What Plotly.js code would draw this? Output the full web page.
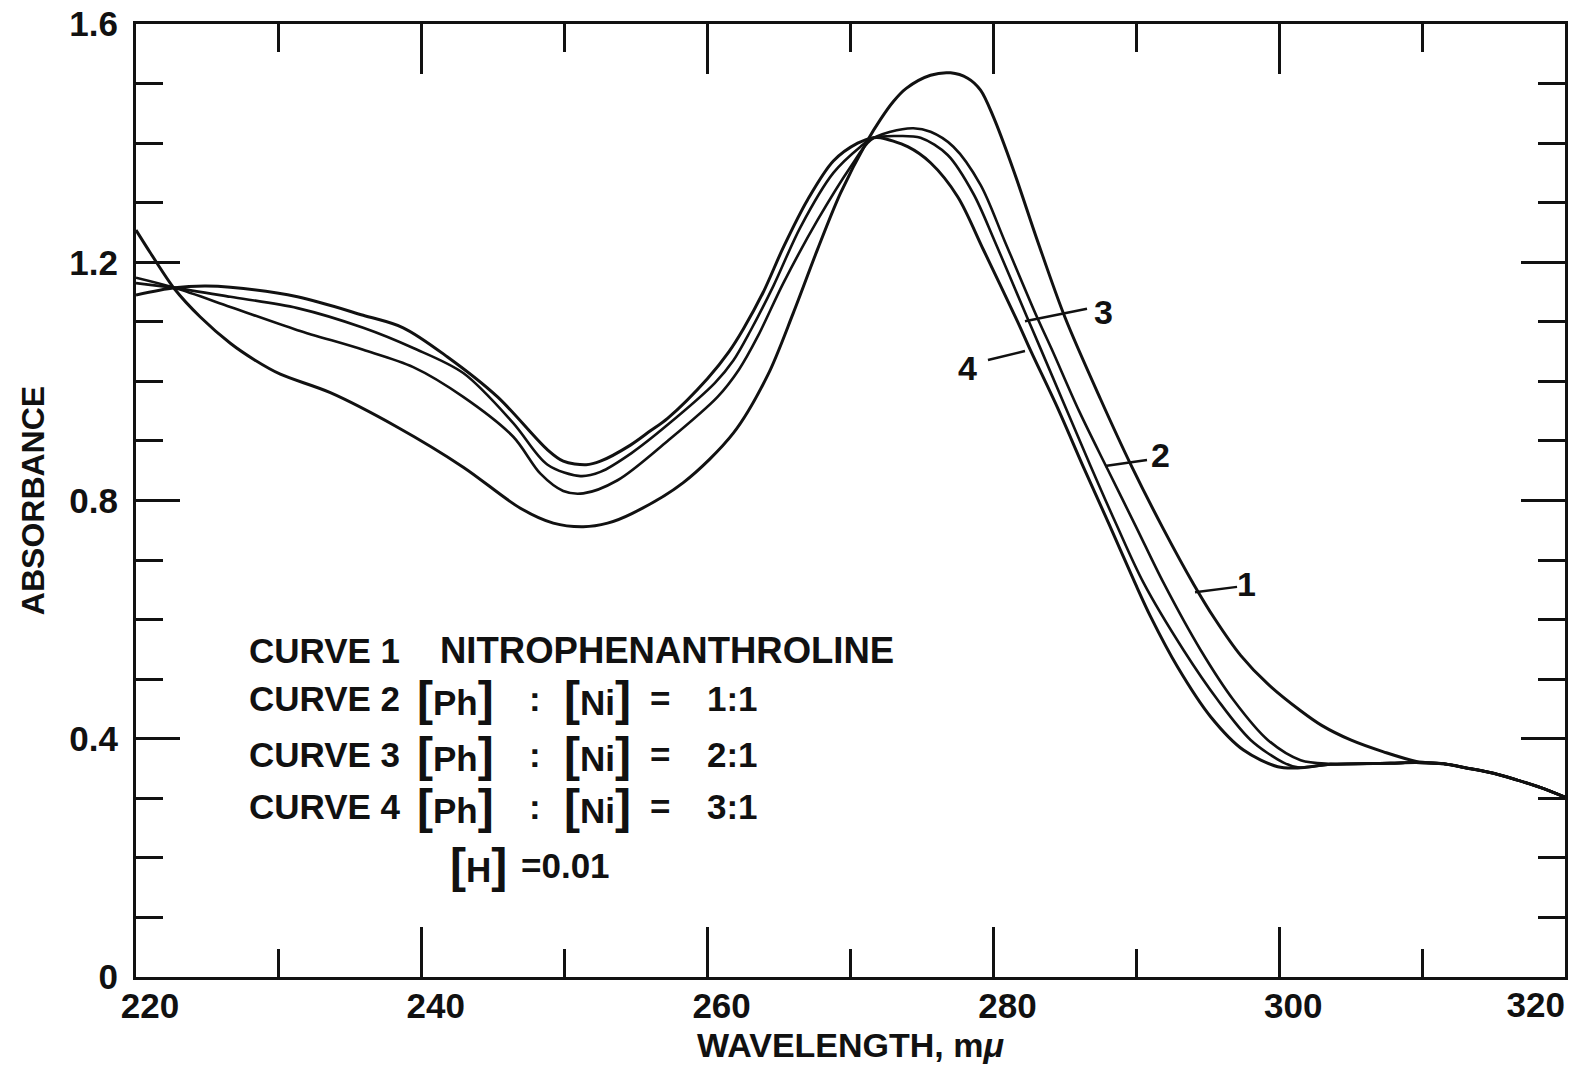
<!DOCTYPE html>
<html>
<head>
<meta charset="utf-8">
<script src="https://cdn.plot.ly/plotly-3.0.1.min.js"></script>
<style>html,body{margin:0;padding:0;background:#fff;}#chart{width:1580px;height:1071px;}</style>
</head>
<body>
<div id="chart"></div>
<script>
// ---- data (absorbance vs wavelength, mμ) ----
const curve1X = [220, 221, 222.7, 224.5, 226.6, 228.3, 230.1, 233.6, 238.3, 242.9, 246.9, 249.2, 251.3, 253, 254.7, 258.3, 261.8, 264.2, 266.0, 267.7, 269.3, 271.2, 272.1, 273.0, 273.9, 275.6, 277.0, 278.2, 279.1, 280.0, 281.4, 283.1, 285.0, 287.5, 289.7, 291.9, 294.0, 295.5, 297.3, 299.2, 301.5, 303.0, 305.0, 307.3, 309.6, 311.5, 313.1, 315, 316.6, 318.3, 320];
const curve1Y = [1.254, 1.216, 1.155, 1.108, 1.064, 1.036, 1.012, 0.981, 0.923, 0.856, 0.787, 0.762, 0.756, 0.762, 0.778, 0.830, 0.913, 1.010, 1.115, 1.222, 1.316, 1.405, 1.440, 1.470, 1.492, 1.514, 1.518, 1.509, 1.489, 1.444, 1.355, 1.235, 1.108, 0.970, 0.856, 0.752, 0.660, 0.601, 0.540, 0.492, 0.447, 0.422, 0.398, 0.378, 0.362, 0.358, 0.351, 0.342, 0.331, 0.318, 0.302];

const curve2X = [220, 222.7, 226.6, 231.3, 235.9, 239.4, 242.9, 246.4, 248.3, 249.9, 251.3, 253.7, 257.2, 260.7, 262.2, 263.5, 265.3, 267.7, 270.0, 271.4, 272.8, 274.4, 275.6, 277.2, 279.1, 280.8, 283.05, 284.1, 286.0, 288.0, 290.0, 291.9, 294.5, 296.8, 299.2, 301.5, 303.6, 307.8, 309.6, 311.5, 313.1, 315, 316.6, 318.3, 320];
const curve2Y = [1.174, 1.157, 1.125, 1.086, 1.053, 1.024, 0.974, 0.907, 0.845, 0.816, 0.812, 0.834, 0.900, 0.974, 1.020, 1.075, 1.165, 1.271, 1.360, 1.405, 1.419, 1.425, 1.419, 1.394, 1.330, 1.235, 1.108, 1.053, 0.950, 0.852, 0.755, 0.662, 0.549, 0.465, 0.398, 0.364, 0.358, 0.359, 0.360, 0.358, 0.351, 0.342, 0.331, 0.318, 0.302];

const curve3X = [220, 222.7, 226.6, 231.3, 235.9, 239.4, 242.9, 246.4, 248.8, 251.1, 252.5, 254.7, 257.2, 260.5, 261.8, 263.0, 264.6, 266.5, 268.8, 270.7, 271.6, 273.3, 274.9, 276.8, 278.6, 280.1, 282.35, 283.3, 286.8, 288.6, 290.5, 293.3, 295.7, 298.0, 300.3, 301.3, 303.6, 307.8, 309.6, 311.5, 313.1, 315, 316.6, 318.3, 320];
const curve3Y = [1.165, 1.157, 1.142, 1.123, 1.090, 1.056, 1.014, 0.930, 0.860, 0.841, 0.848, 0.880, 0.927, 0.997, 1.035, 1.085, 1.160, 1.259, 1.350, 1.394, 1.409, 1.412, 1.409, 1.380, 1.315, 1.235, 1.108, 1.055, 0.858, 0.760, 0.662, 0.549, 0.465, 0.398, 0.360, 0.352, 0.357, 0.359, 0.360, 0.358, 0.351, 0.342, 0.331, 0.318, 0.302];

const curve4X = [220, 222.7, 224.8, 226.6, 231.3, 235.9, 238.7, 241.8, 245.3, 248.8, 249.9, 251.5, 252.5, 254.6, 256.0, 257.2, 260.0, 261.5, 262.5, 263.9, 265.3, 267.0, 268.8, 270.5, 271.6, 272.1, 274.0, 275.6, 277.5, 279.3, 281.7, 282.6, 284.5, 286.3, 288.1, 289.9, 291.0, 292.9, 295.2, 297.5, 299.9, 301.3, 303.6, 307.8, 309.6, 311.5, 313.1, 315, 316.6, 318.3, 320];
const curve4Y = [1.145, 1.157, 1.160, 1.158, 1.142, 1.111, 1.090, 1.041, 0.974, 0.885, 0.866, 0.860, 0.866, 0.893, 0.917, 0.938, 1.005, 1.050, 1.088, 1.150, 1.225, 1.305, 1.370, 1.400, 1.409, 1.409, 1.394, 1.367, 1.310, 1.221, 1.100, 1.052, 0.955, 0.856, 0.760, 0.662, 0.605, 0.520, 0.437, 0.381, 0.353, 0.351, 0.357, 0.359, 0.360, 0.358, 0.351, 0.342, 0.331, 0.318, 0.302];

const curveNames = ["Curve 1", "Curve 2", "Curve 3", "Curve 4"];
const xTickVals = [220, 240, 260, 280, 300, 320];
const xTickText = ["220", "240", "260", "280", "300", ""];
const xEdgeTickVals = [320];
const xEdgeTickText = ["320"];
const yTickVals = [0, 0.4, 0.8, 1.2, 1.6];
const yTickText = ["0", "0.4", "0.8", "1.2", "1.6"];

const FONT = "'Liberation Sans', Arial, sans-serif";
const INK = "#111";
const W = "bold";

function curve(x, y, name, w) {
  return {x: x, y: y, name: name, type: "scatter", mode: "lines",
    line: {color: INK, width: w, shape: "spline", smoothing: 0.9}, hoverinfo: "x+y+name"};
}
const traces = [
  curve(curve1X, curve1Y, curveNames[0], 3),
  curve(curve2X, curve2Y, curveNames[1], 2.6),
  curve(curve3X, curve3Y, curveNames[2], 2.6),
  curve(curve4X, curve4Y, curveNames[3], 3),
  {x: [], y: [], xaxis: "x2", yaxis: "y", type: "scatter", mode: "lines", showlegend: false, hoverinfo: "skip"}
];

// legend text block
const big = s => '<span style="font-size:48px">' + s + '</span>';
const br = s => big('[') + s + big(']');
const rows = [
  {y: 0.549, c: "CURVE 1", rest: "NITROPHENANTHROLINE"},
  {y: 0.468, c: "CURVE 2", ratio: "1:1"},
  {y: 0.374, c: "CURVE 3", ratio: "2:1"},
  {y: 0.287, c: "CURVE 4", ratio: "3:1"}
];
const ann = [];
function txt(x, y, t, xa, size) {
  ann.push({x: x, y: y, xref: "x", yref: "y", text: t, showarrow: false, xanchor: xa || "left", yanchor: "middle",
    font: {family: FONT, size: size || 35, color: INK, weight: W}});
}
rows.forEach(r => {
  txt(227.8, r.y, r.c);
  if (r.rest) { txt(241.1, r.y, r.rest, "left", 36.5); }
  else {
    txt(239.5, r.y, br("Ph"));
    txt(247.9, r.y, ":", "center");
    txt(249.8, r.y, br("Ni"));
    txt(256.7, r.y, "=", "center");
    txt(259.8, r.y, r.ratio);
  }
});
txt(241.8, 0.188, br("H"));
txt(246.8, 0.188, "=0.01");

// curve number labels with leader lines
const labels = [
  {t: "1", x: 297.7, y: 0.660, lx: [294.11, 297.05], ly: [0.646, 0.655]},
  {t: "2", x: 291.7, y: 0.876, lx: [287.81, 290.75], ly: [0.858, 0.868]},
  {t: "3", x: 287.7, y: 1.117, lx: [282.21, 286.55], ly: [1.101, 1.122]},
  {t: "4", x: 278.2, y: 1.023, lx: [279.62, 282.21], ly: [1.036, 1.051]}
];
const shapes = [];
labels.forEach(l => {
  ann.push({x: l.x, y: l.y, xref: "x", yref: "y", text: l.t, showarrow: false, xanchor: "center", yanchor: "middle", font: {family: FONT, size: 34, color: INK, weight: W}});
  shapes.push({type: "line", xref: "x", yref: "y", x0: l.lx[0], y0: l.ly[0], x1: l.lx[1], y1: l.ly[1], line: {color: INK, width: 2.5}});
});

const tickFont = {family: FONT, size: 35, color: INK, weight: W};
const layout = {
  width: 1580, height: 1071,
  margin: {l: 136, r: 15, t: 24, b: 94},
  paper_bgcolor: "#fff", plot_bgcolor: "#fff",
  showlegend: false,
  font: {family: FONT, color: INK},
  xaxis: {
    range: [220, 320], tickvals: xTickVals, ticktext: xTickText, ticks: "inside", ticklen: 50, tickwidth: 3, tickcolor: INK,
    minor: {dtick: 10, tick0: 220, ticks: "inside", ticklen: 28, tickwidth: 3, tickcolor: INK, showgrid: false},
    showline: true, linewidth: 3, linecolor: INK, mirror: "ticks", showgrid: false, zeroline: false,
    tickfont: tickFont, ticklabelstandoff: -4, ticklabelshift: 14,
    title: {text: "WAVELENGTH, m<i>μ</i>", font: {family: FONT, size: 34, color: INK, weight: W}, standoff: 10}
  },
  xaxis2: {
    overlaying: "x", anchor: "y", side: "bottom", range: [220, 320],
    tickvals: xEdgeTickVals, ticktext: xEdgeTickText, ticks: "", showline: false, showgrid: false, zeroline: false,
    ticklabelposition: "outside left", ticklabelshift: 0, ticklabelstandoff: 4, tickfont: tickFont
  },
  yaxis: {
    range: [0, 1.6], tickvals: yTickVals, ticktext: yTickText, ticks: "inside", ticklen: 44, tickwidth: 3, tickcolor: INK,
    minor: {dtick: 0.1, tick0: 0, ticks: "inside", ticklen: 27, tickwidth: 3, tickcolor: INK, showgrid: false},
    showline: true, linewidth: 3, linecolor: INK, mirror: "ticks", showgrid: false, zeroline: false,
    tickfont: tickFont, ticklabelstandoff: 8,
    title: {text: "ABSORBANCE", font: {family: FONT, size: 32, color: INK, weight: W}, standoff: 16}
  },
  annotations: ann,
  shapes: shapes
};

Plotly.newPlot("chart", traces, layout, {displayModeBar: false, staticPlot: true});
</script>
</body>
</html>
